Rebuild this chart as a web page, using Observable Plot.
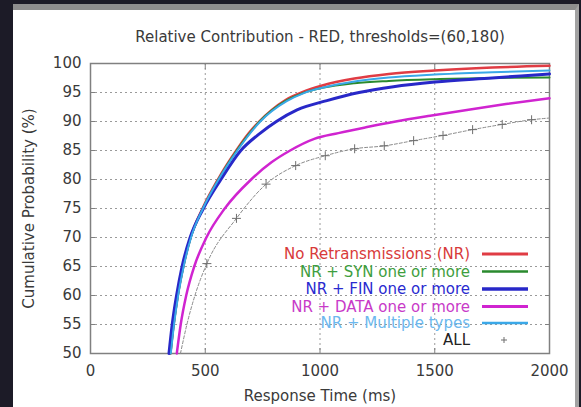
<!DOCTYPE html>
<html>
<head>
<meta charset="utf-8">
<script src="https://cdn.jsdelivr.net/npm/d3@7"></script>
<script src="https://cdn.jsdelivr.net/npm/@observablehq/plot@0.6"></script>
<style>
  html, body { margin: 0; padding: 0; width: 581px; height: 407px; overflow: hidden; background: #1c1b27; }
  #panel {
    position: absolute; left: 13px; top: 4px; width: 562px; height: 397px;
    background: #ffffff; border-top: 6px solid #8e8e8e; border-right: 4px solid #a2a2a2;
  }
  #panel svg { display: block; }
</style>
</head>
<body>
<div id="panel"></div>
<script>
// Response-time CDFs, [time (ms), cumulative probability (%)]
const noRetrans = [[348,50],[362,55],[380,60],[404,65],[436,70],[488,75],[555,80],[635,85],[690,88],[735,90],[790,92],[850,93.7],[920,95],[1010,96.2],[1150,97.4],[1300,98.2],[1500,98.8],[1750,99.3],[2000,99.6]];
const synOneOrMore = [[349,50],[363,55],[381,60],[405,65],[437,70],[490,75],[557,80],[637,85],[737,90],[852,93.6],[925,94.9],[1010,95.8],[1150,96.6],[1300,97.0],[1500,97.3],[1750,97.5],[2000,97.6]];
const finOneOrMore = [[342,50],[356,55],[375,60],[399,65],[434,70],[492,75],[568,80],[655,85],[740,88],[810,90],[900,92],[1030,93.6],[1170,95],[1320,96],[1500,96.8],[1750,97.5],[2000,98.2]];
const dataOneOrMore = [[376,50],[393,55],[417,60],[452,65],[505,70],[585,75],[700,80],[790,83],[870,85],[975,87],[1080,88],[1200,89],[1330,90],[1480,91],[1640,92],[1810,93],[2000,94]];
const multipleTypes = [[350,50],[364,55],[382,60],[406,65],[438,70],[490,75],[558,80],[640,85],[740,90],[855,93.5],[930,94.9],[1020,95.9],[1150,96.9],[1300,97.6],[1500,98.1],[1750,98.5],[2000,98.8]];
const allFlows = [[392,50],[420,55],[455,60],[507,65.5],[636,73.3],[765,79.2],[894,82.4],[1023,84.1],[1151,85.3],[1280,85.8],[1408,86.7],[1536,87.6],[1665,88.6],[1794,89.5],[1922,90.3],[2000,90.6]];
const allMarkerTimes = [507,636,765,894,1023,1151,1280,1408,1536,1665,1794,1922];

const seriesNames = ["No Retransmissions (NR)", "NR + SYN one or more", "NR + FIN one or more", "NR + DATA one or more", "NR + Multiple types", "ALL"];
const seriesData = [noRetrans, synOneOrMore, finOneOrMore, dataOneOrMore, multipleTypes, allFlows];
const lineColors = ["#e03c44", "#2a8a2e", "#2828c8", "#d024d0", "#3aa8e8", "#8a8a8a"];
const textColors = ["#d83a3a", "#3e9e3e", "#2a2ad0", "#c83ac8", "#6cb8ee", "#222222"];
const lineWidths = [2.5, 2, 3, 2.5, 2, 1];

const xTicks = [0, 500, 1000, 1500, 2000];
const yTicks = [50, 55, 60, 65, 70, 75, 80, 85, 90, 95, 100];
const titleText = "Relative Contribution - RED, thresholds=(60,180)";
const xLabel = "Response Time (ms)";
const yLabel = "Cumulative Probability (%)";

const W = 562, H = 397, mL = 77, mR = 26, mT = 53, mB = 54;
const tickColor = "#808080";
const textColor = "#3a3a3a";

const curveMarks = seriesData.slice(0, 5).map((s, i) =>
  Plot.line(s, {x: d => d[0], y: d => d[1], stroke: lineColors[i], strokeWidth: lineWidths[i], curve: "monotone-x"})
);

const plot = Plot.plot({
  width: W, height: H,
  marginLeft: mL, marginRight: mR, marginTop: mT, marginBottom: mB,
  style: {fontFamily: "'DejaVu Sans', sans-serif", fontSize: "15px", color: textColor, background: "transparent", overflow: "visible"},
  x: {domain: [0, 2000]},
  y: {domain: [50, 100]},
  marks: [
    Plot.gridX(xTicks.slice(1, -1), {stroke: "#9a9a9a", strokeOpacity: 1, strokeDasharray: "2,3"}),
    Plot.gridY(yTicks.slice(1, -1), {stroke: "#9a9a9a", strokeOpacity: 1, strokeDasharray: "2,3"}),
    Plot.axisX(xTicks, {anchor: "bottom", tickSize: -5, tickPadding: 16.5, tickFormat: d => String(d), label: null, stroke: tickColor}),
    Plot.axisX(xTicks, {anchor: "top", tickSize: -5, tickFormat: () => "", label: null, stroke: tickColor}),
    Plot.axisY(yTicks, {anchor: "left", tickSize: -5, tickPadding: 14, tickFormat: d => String(d), label: null, stroke: tickColor}),
    Plot.axisY(yTicks, {anchor: "right", tickSize: -5, tickFormat: () => "", label: null, stroke: tickColor}),
    Plot.frame({stroke: tickColor, strokeWidth: 1.5}),
    ...curveMarks,
    Plot.line(allFlows, {x: d => d[0], y: d => d[1], stroke: lineColors[5], strokeWidth: 1, strokeDasharray: "3,2", curve: "monotone-x"}),
    Plot.dot(allFlows.filter(d => allMarkerTimes.includes(d[0])), {x: d => d[0], y: d => d[1], symbol: "plus", r: 3, stroke: "#6e6e6e", strokeWidth: 1}),
    Plot.text([titleText], {text: d => d, frameAnchor: "top", dy: -26, lineAnchor: "middle", textAnchor: "middle", fill: textColor}),
    Plot.text([xLabel], {text: d => d, frameAnchor: "bottom", dy: 43, lineAnchor: "middle", textAnchor: "middle", fill: textColor}),
    Plot.text([yLabel], {text: d => d, frameAnchor: "left", dx: -61.5, rotate: -90, textAnchor: "middle", lineAnchor: "middle", fill: textColor})
  ]
});

// Key in the lower-right corner of the frame
const key = d3.select(plot).append("g")
  .attr("transform", `translate(${W - mR},${H - mB})`)
  .attr("font-family", "'DejaVu Sans', sans-serif")
  .attr("font-size", 15);
const rowY = [-99, -81.5, -64, -46.5, -30, -13];
seriesNames.forEach((name, i) => {
  key.append("text")
    .attr("x", -79).attr("y", rowY[i]).attr("dy", "0.35em")
    .attr("text-anchor", "end").attr("fill", textColors[i]).text(name);
  if (i < 5) {
    key.append("line")
      .attr("x1", -67).attr("x2", -21).attr("y1", rowY[i]).attr("y2", rowY[i])
      .attr("stroke", lineColors[i]).attr("stroke-width", lineWidths[i] + 0.5);
  } else {
    key.append("path")
      .attr("d", `M-48,${rowY[i]}h6M-45,${rowY[i] - 3}v6`)
      .attr("stroke", "#6e6e6e").attr("stroke-width", 1);
  }
});

document.getElementById("panel").appendChild(plot);
</script>
</body>
</html>
